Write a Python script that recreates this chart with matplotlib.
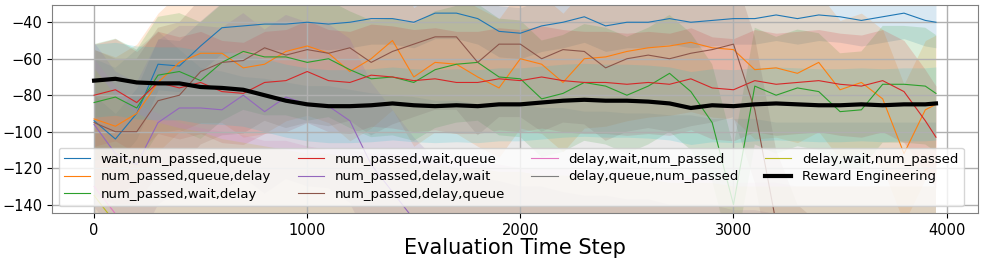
import numpy as np
import matplotlib
matplotlib.use('Agg')
import matplotlib.pyplot as plt

steps = list(range(0, 4000, 100)) + [3950]

labels = ['wait,num_passed,queue', 'num_passed,queue,delay', 'num_passed,wait,delay',
          'num_passed,wait,queue', 'num_passed,delay,wait', 'num_passed,delay,queue',
          'delay,wait,num_passed', 'delay,queue,num_passed', 'delay,wait,num_passed']

blue = [-94, -104, -90, -63, -64, -53, -43, -42, -41, -41, -40, -41, -40, -38, -38, -40, -35, -35, -38, -45,
        -46, -42, -40, -37, -42, -40, -40, -38, -40, -39, -38, -38, -36, -38, -36, -37, -39, -37, -35, -39, -40]
orange = [-93, -97, -90, -73, -62, -57, -57, -65, -63, -56, -53, -57, -67, -60, -50, -70, -62, -63, -70, -76,
          -60, -63, -73, -60, -59, -56, -54, -53, -51, -54, -55, -66, -65, -68, -62, -77, -73, -82, -112, -88, -85]
green = [-84, -81, -87, -69, -67, -72, -62, -56, -59, -59, -62, -60, -66, -71, -70, -73, -66, -63, -62, -70,
         -71, -82, -79, -73, -75, -80, -75, -68, -78, -95, -140, -75, -80, -76, -78, -89, -88, -74, -74, -75, -79]
red = [-80, -77, -84, -73, -76, -73, -78, -79, -73, -72, -67, -72, -73, -69, -70, -72, -71, -73, -73, -71,
       -72, -70, -72, -73, -73, -74, -73, -74, -71, -76, -77, -72, -74, -73, -72, -74, -75, -72, -78, -94, -103]
purple = [-96, -112, -118, -95, -87, -87, -88, -80, -89, -81, -85, -86, -94, -118, -133, -148, -160, -165, -170, -172,
          -175, -175, -178, -180, -180, -182, -182, -185, -185, -185, -188, -188, -190, -190, -190, -190, -192, -192, -192, -192, -192]
brown = [-95, -100, -100, -83, -80, -67, -62, -61, -54, -58, -55, -57, -54, -62, -56, -52, -48, -48, -62, -52,
         -52, -60, -55, -56, -65, -60, -58, -60, -57, -55, -52, -88, -150, -180, -190, -195, -195, -200, -200, -200, -200]
pink = [-130, -145, -155, -160, -165, -168, -170, -172, -175, -175, -178, -180, -180, -182, -182, -185, -185, -185, -188, -188,
        -190, -190, -190, -192, -192, -192, -195, -195, -195, -195, -198, -198, -198, -200, -200, -200, -200, -200, -200, -200, -200]
gray = [-165, -170, -160, -150, -160, -170, -172, -175, -176, -178, -180, -180, -182, -184, -185, -186, -188, -188, -190, -190,
        -190, -192, -192, -194, -194, -195, -195, -196, -196, -198, -198, -198, -200, -200, -200, -200, -200, -200, -200, -200, -200]
olive = [-135, -150, -160, -165, -168, -170, -174, -176, -178, -180, -182, -182, -184, -185, -186, -188, -188, -190, -190, -192,
         -192, -194, -194, -195, -195, -196, -196, -198, -198, -198, -200, -200, -200, -200, -200, -200, -200, -200, -200, -200, -200]
reward = [-72, -71, -73, -73.5, -73.5, -75.5, -76, -77, -80, -83, -85, -86, -86, -85.5, -84.5, -85.5, -86, -85.5, -86, -85,
          -85, -84, -83, -82.5, -83, -83, -83.5, -84.5, -87, -85.5, -86, -85, -84.5, -85, -85.5, -85.5, -85, -85.5, -85, -85, -84.5]

# rough half width of the shaded band of each run
spread = [14, 38, 32, 28, 45, 40, 70, 105, 70, 20]

series = [blue, orange, green, red, purple, brown, pink, gray, olive]

fig = plt.figure(figsize=(9.81, 2.59), dpi=100)
ax = fig.add_axes([0.053, 0.178, 0.944, 0.803])

x = np.array(steps)
for i, (y, lab) in enumerate(zip(series, labels)):
    y = np.array(y, dtype=float)
    ax.plot(x, y, color='C%d' % i, lw=0.8, label=lab)
    ax.fill_between(x, y - spread[i], y + spread[i], color='C%d' % i, alpha=0.17, lw=0)

r = np.array(reward)
ax.plot(x, r, color='black', lw=3, label='Reward Engineering')
ax.fill_between(x, r - spread[9], r + spread[9], color='C9', alpha=0.17, lw=0)

ax.set_ylim(-144.5, -30.5)
ax.set_yticks([-140, -120, -100, -80, -60, -40])
ax.set_xticks([0, 1000, 2000, 3000, 4000])
ax.grid(True, color='#b0b0b0', lw=1)
for s in ax.spines.values():
    s.set_color('#808080')
ax.tick_params(labelsize=10.5)
ax.set_xlabel('Evaluation Time Step', fontsize=15, labelpad=0)
ax.legend(loc='lower left', ncol=4, fontsize=9.5, labelspacing=0.35)

fig.savefig('out.png', dpi=100)
